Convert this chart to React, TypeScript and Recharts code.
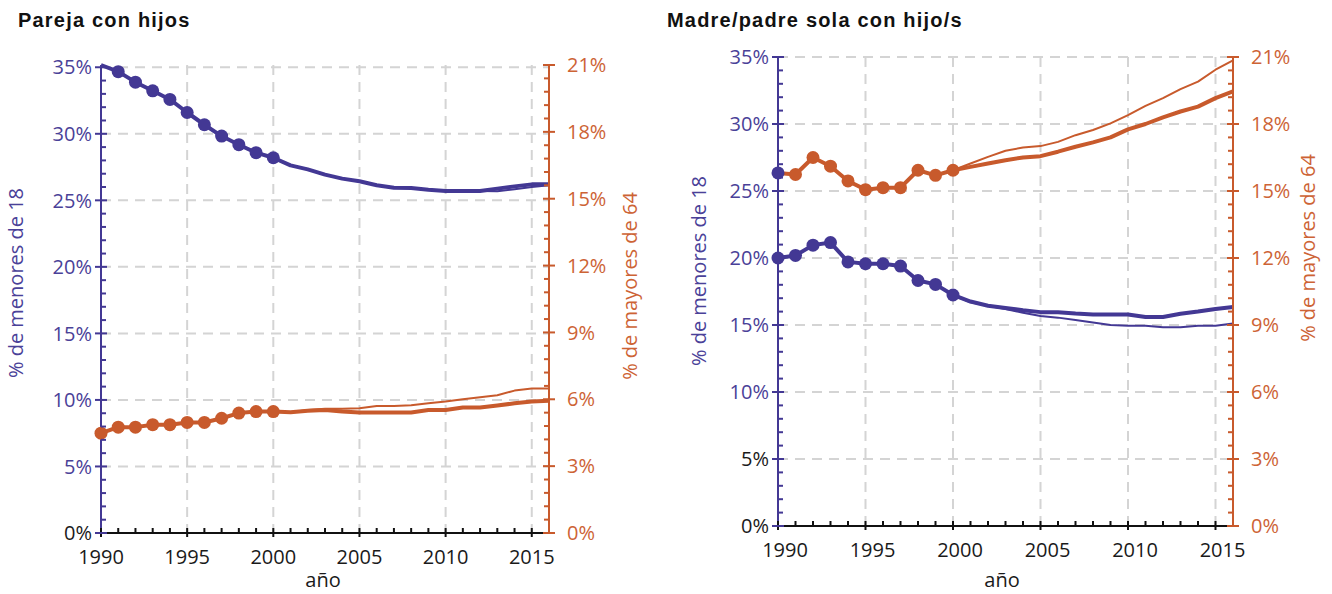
import { LineChart, Line, XAxis, YAxis, CartesianGrid } from 'recharts'

const PURPLE = '#433894'
const PURPLE_TEXT = '#4a4198'
const ORANGE = '#c85a2c'
const ORANGE_TEXT = '#cd6335'
const GRID = '#d4d4d4'
const AXIS_BLACK = '#111111'
const FONT = '"Open Sans", "Liberation Sans", sans-serif'

const years = [
  1990, 1991, 1992, 1993, 1994, 1995, 1996, 1997, 1998, 1999, 2000, 2001, 2002,
  2003, 2004, 2005, 2006, 2007, 2008, 2009, 2010, 2011, 2012, 2013, 2014, 2015,
  2016,
]
const xTicks = [
  1990, 1991, 1992, 1993, 1994, 1995, 1996, 1997, 1998, 1999, 2000, 2001, 2002,
  2003, 2004, 2005, 2006, 2007, 2008, 2009, 2010, 2011, 2012, 2013, 2014, 2015,
]
const xLabelYears = [1990, 1995, 2000, 2005, 2010, 2015]
const xGrid = [1995, 2000, 2005, 2010, 2015]

// left axis: % de menores de 18 (minor tick every 1%)
const menoresTicks = [
  0, 1, 2, 3, 4, 5, 6, 7, 8, 9, 10, 11, 12, 13, 14, 15, 16, 17, 18, 19, 20, 21,
  22, 23, 24, 25, 26, 27, 28, 29, 30, 31, 32, 33, 34, 35,
]
const menoresLabels = [0, 5, 10, 15, 20, 25, 30, 35]
const menoresGrid = [5, 10, 15, 20, 25, 30, 35]

// right axis: % de mayores de 64 (minor tick every 0.6%)
const mayoresTicks = [
  0, 0.6, 1.2, 1.8, 2.4, 3, 3.6, 4.2, 4.8, 5.4, 6, 6.6, 7.2, 7.8, 8.4, 9, 9.6,
  10.2, 10.8, 11.4, 12, 12.6, 13.2, 13.8, 14.4, 15, 15.6, 16.2, 16.8, 17.4, 18,
  18.6, 19.2, 19.8, 20.4, 21,
]
const mayoresLabels = [0, 3, 6, 9, 12, 15, 18, 21]

// Pareja con hijos
const parejaMenores = [
  35.17, 34.67, 33.88, 33.23, 32.58, 31.6, 30.68, 29.83, 29.18, 28.58, 28.2,
  27.63, 27.33, 26.93, 26.63, 26.43, 26.13, 25.95, 25.93, 25.8, 25.7, 25.7, 25.7,
  25.88, 26.05, 26.2, 26.2,
]
const parejaMenoresAlt = [
  null, null, null, null, null, null, null, null, null, null, 28.2, 27.63, 27.33,
  26.93, 26.63, 26.43, 26.13, 25.95, 25.93, 25.8, 25.7, 25.7, 25.7, 25.68, 25.83,
  26.0, 26.13,
]
const parejaMayores = [
  4.48, 4.75, 4.75, 4.86, 4.86, 4.96, 4.96, 5.15, 5.38, 5.45, 5.45, 5.42, 5.49,
  5.52, 5.45, 5.41, 5.41, 5.41, 5.41, 5.52, 5.52, 5.63, 5.63, 5.72, 5.82, 5.9,
  5.93,
]
const parejaMayoresAlt = [
  null, null, null, null, null, null, null, null, null, null, 5.45, 5.42, 5.52,
  5.57, 5.58, 5.6, 5.7, 5.7, 5.73, 5.82, 5.9, 6.0, 6.09, 6.18, 6.39, 6.48, 6.48,
]

// Madre/padre sola con hijo/s
const soloMenores = [
  20.0, 20.19, 20.96, 21.15, 19.71, 19.57, 19.57, 19.4, 18.32, 18.03, 17.24,
  16.75, 16.44, 16.27, 16.1, 15.96, 15.96, 15.85, 15.79, 15.79, 15.79, 15.6, 15.6,
  15.84, 16.0, 16.2, 16.35,
]
const soloMenoresAlt = [
  null, null, null, null, null, null, null, null, null, null, 17.24, 16.7, 16.44,
  16.2, 15.91, 15.67, 15.55, 15.38, 15.19, 15.0, 14.95, 14.95, 14.83, 14.83,
  14.95, 14.95, 15.12,
]
const soloMayores = [
  15.81, 15.74, 16.5, 16.11, 15.45, 15.06, 15.15, 15.15, 15.93, 15.7, 15.93,
  16.08, 16.23, 16.38, 16.5, 16.56, 16.76, 16.98, 17.18, 17.4, 17.76, 18.0, 18.3,
  18.56, 18.78, 19.16, 19.46,
]
const soloMayoresAlt = [
  null, null, null, null, null, null, null, null, null, null, 15.93, 16.23, 16.53,
  16.8, 16.95, 17.01, 17.2, 17.5, 17.73, 18.03, 18.4, 18.81, 19.16, 19.56, 19.9,
  20.43, 20.85,
]

const LAST_DOT_YEAR = 2000

const buildRows = (
  menores: (number | null)[],
  menoresAlt: (number | null)[],
  mayores: (number | null)[],
  mayoresAlt: (number | null)[]
) =>
  years.map((year, i) => ({
    year,
    menores: menores[i],
    menoresAlt: menoresAlt[i],
    mayores: mayores[i],
    mayoresAlt: mayoresAlt[i],
  }))

const parejaRows = buildRows(
  parejaMenores,
  parejaMenoresAlt,
  parejaMayores,
  parejaMayoresAlt
)
const soloRows = buildRows(
  soloMenores,
  soloMenoresAlt,
  soloMayores,
  soloMayoresAlt
)

// dots only on the early (annual survey) years
const makeDot =
  (color: string, skipFirst: boolean, firstColor?: string) => (props: any) => {
    const { cx, cy, index, payload } = props
    const key = `dot-${index}`
    if (cx == null || cy == null || payload.year > LAST_DOT_YEAR) return <g key={key} />
    if (skipFirst && index === 0) return <g key={key} />
    const fill = index === 0 && firstColor ? firstColor : color
    return <circle key={key} cx={cx} cy={cy} r={6.5} fill={fill} />
  }

const YTick = (props: any) => {
  const { x, y, payload, side, color, textColor, labels, darkLabels } = props
  const v = payload.value
  const inward = side === 'left' ? 1 : -1
  const isMajor = labels.includes(v)
  if (!isMajor) {
    return (
      <line x1={x} x2={x + inward * 5} y1={y} y2={y} stroke={color} strokeWidth={2} />
    )
  }
  const fill = darkLabels && darkLabels.includes(v) ? '#1a1a1a' : textColor
  return (
    <g>
      <line x1={x - 6} x2={x + 6} y1={y} y2={y} stroke={color} strokeWidth={2} />
      <text
        x={side === 'left' ? x - 9 : x + 18}
        y={y}
        dy="0.36em"
        textAnchor={side === 'left' ? 'end' : 'start'}
        fill={fill}
        fontFamily={FONT}
        fontSize={20}
      >
        {`${v}%`}
      </text>
    </g>
  )
}

const XTick = (props: any) => {
  const { x, y, payload, labelShift } = props
  const v = payload.value
  if (!xLabelYears.includes(v)) {
    return <line x1={x} x2={x} y1={y} y2={y - 5} stroke={AXIS_BLACK} strokeWidth={2} />
  }
  return (
    <g>
      <line x1={x} x2={x} y1={y - 5} y2={y + 4} stroke={AXIS_BLACK} strokeWidth={2} />
      <text
        x={x + labelShift}
        y={y + 31}
        textAnchor="middle"
        fill="#1a1a1a"
        fontFamily={FONT}
        fontSize={20}
      >
        {v}
      </text>
    </g>
  )
}

interface PanelProps {
  rows: any[]
  left: number
  width: number
  margin: { top: number; right: number; bottom: number; left: number }
  leftDark: number[]
  labelShift: number
  skipFirstMenoresDot: boolean
  mayoresFirstDotColor?: string
}

function Panel({
  rows,
  left,
  width,
  margin,
  leftDark,
  labelShift,
  skipFirstMenoresDot,
  mayoresFirstDotColor,
}: PanelProps) {
  return (
    <div style={{ position: 'absolute', left, top: 0 }}>
      <LineChart width={width} height={594} data={rows} margin={margin}>
        <CartesianGrid
          yAxisId="menores"
          horizontalValues={menoresGrid}
          verticalValues={xGrid}
          stroke={GRID}
          strokeWidth={2}
          strokeDasharray="10 7"
        />
        <XAxis
          dataKey="year"
          type="number"
          domain={[1990, 2016]}
          ticks={xTicks}
          interval={0}
          tickLine={false}
          tickSize={0}
          tickMargin={0}
          height={50}
          axisLine={{ stroke: AXIS_BLACK, strokeWidth: 2 }}
          tick={(p: any) => <XTick {...p} labelShift={labelShift} />}
        />
        <YAxis
          yAxisId="menores"
          orientation="left"
          type="number"
          domain={[0, 35]}
          ticks={menoresTicks}
          interval={0}
          width={60}
          tickLine={false}
          tickSize={0}
          tickMargin={0}
          axisLine={{ stroke: PURPLE, strokeWidth: 2 }}
          tick={(p: any) => (
            <YTick
              {...p}
              side="left"
              color={PURPLE}
              textColor={PURPLE_TEXT}
              labels={menoresLabels}
              darkLabels={leftDark}
            />
          )}
        />
        <YAxis
          yAxisId="mayores"
          orientation="right"
          type="number"
          domain={[0, 21]}
          ticks={mayoresTicks}
          interval={0}
          width={60}
          tickLine={false}
          tickSize={0}
          tickMargin={0}
          axisLine={{ stroke: ORANGE, strokeWidth: 2 }}
          tick={(p: any) => (
            <YTick
              {...p}
              side="right"
              color={ORANGE}
              textColor={ORANGE_TEXT}
              labels={mayoresLabels}
            />
          )}
        />
        <Line
          yAxisId="menores"
          dataKey="menoresAlt"
          stroke={PURPLE}
          strokeWidth={2}
          dot={false}
          activeDot={false}
          isAnimationActive={false}
          strokeLinejoin="round"
        />
        <Line
          yAxisId="menores"
          dataKey="menores"
          stroke={PURPLE}
          strokeWidth={4}
          dot={makeDot(PURPLE, skipFirstMenoresDot)}
          activeDot={false}
          isAnimationActive={false}
          strokeLinejoin="round"
        />
        <Line
          yAxisId="mayores"
          dataKey="mayoresAlt"
          stroke={ORANGE}
          strokeWidth={2}
          dot={false}
          activeDot={false}
          isAnimationActive={false}
          strokeLinejoin="round"
        />
        <Line
          yAxisId="mayores"
          dataKey="mayores"
          stroke={ORANGE}
          strokeWidth={4}
          dot={makeDot(ORANGE, false, mayoresFirstDotColor)}
          activeDot={false}
          isAnimationActive={false}
          strokeLinejoin="round"
        />
      </LineChart>
    </div>
  )
}

const titleStyle: React.CSSProperties = {
  position: 'absolute',
  top: 8,
  fontFamily: '"Liberation Sans", Arial, sans-serif',
  fontWeight: 700,
  fontSize: 20,
  letterSpacing: 1.2,
  color: '#111',
  whiteSpace: 'nowrap',
  lineHeight: '24px',
}

const rotatedTitle = (
  text: string,
  cx: number,
  cy: number,
  color: string
): React.CSSProperties => ({
  position: 'absolute',
  left: cx,
  top: cy,
  transform: 'translate(-50%, -50%) rotate(-90deg)',
  fontFamily: FONT,
  fontSize: 20,
  color,
  whiteSpace: 'nowrap',
  lineHeight: '24px',
})

const xTitleStyle = (cx: number): React.CSSProperties => ({
  position: 'absolute',
  left: cx,
  top: 568,
  transform: 'translateX(-50%)',
  fontFamily: FONT,
  fontSize: 20,
  color: '#1a1a1a',
  whiteSpace: 'nowrap',
  lineHeight: '24px',
})

export default function App() {
  return (
    <div
      style={{
        position: 'absolute',
        left: 0,
        top: 0,
        width: 1332,
        height: 594,
        background: '#fff',
        overflow: 'hidden',
      }}
    >
      <Panel
        rows={parejaRows}
        left={0}
        width={666}
        margin={{ top: 65, right: 57, bottom: 11, left: 41 }}
        leftDark={[0]}
        labelShift={0}
        skipFirstMenoresDot={true}
      />
      <Panel
        rows={soloRows}
        left={666}
        width={666}
        margin={{ top: 57, right: 39, bottom: 18, left: 52 }}
        leftDark={[0, 5]}
        labelShift={7}
        skipFirstMenoresDot={false}
        mayoresFirstDotColor={PURPLE}
      />

      <div style={{ ...titleStyle, left: 18 }}>Pareja con hijos</div>
      <div style={{ ...titleStyle, left: 667 }}>Madre/padre sola con hijo/s</div>

      <div style={rotatedTitle('', 16, 283, PURPLE_TEXT)}>% de menores de 18</div>
      <div style={rotatedTitle('', 630, 286, ORANGE_TEXT)}>% de mayores de 64</div>
      <div style={rotatedTitle('', 699, 271, PURPLE_TEXT)}>% de menores de 18</div>
      <div style={rotatedTitle('', 1308, 248, ORANGE_TEXT)}>% de mayores de 64</div>

      <div style={xTitleStyle(323)}>año</div>
      <div style={xTitleStyle(1002)}>año</div>
    </div>
  )
}
